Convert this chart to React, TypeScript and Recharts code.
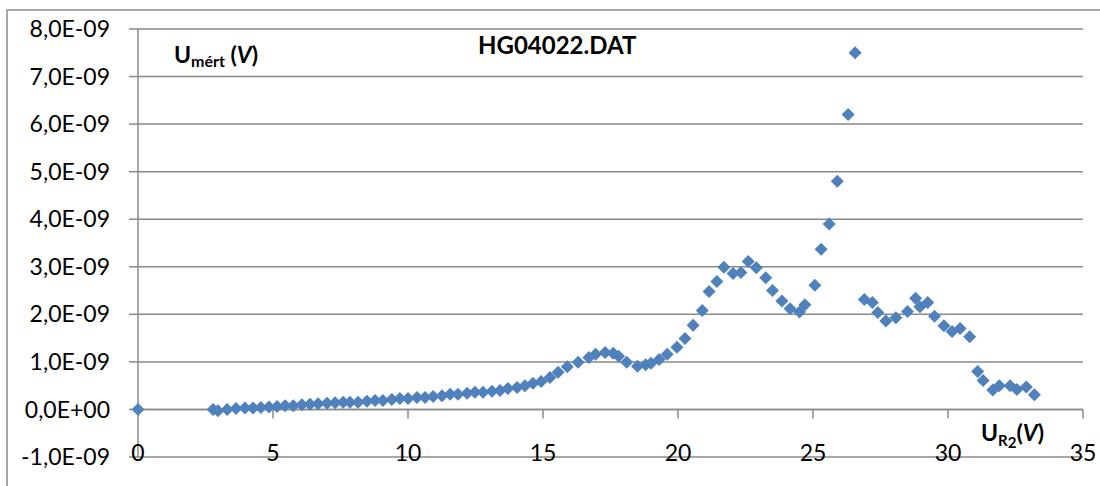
import React from 'react'
import {
  ScatterChart,
  Scatter,
  XAxis,
  YAxis,
  CartesianGrid,
  ReferenceLine,
} from 'recharts'

// U_R2 (V)
const uR2 = [
  0, 2.78, 2.96, 3.3, 3.63, 3.96, 4.26, 4.55, 4.85, 5.15, 5.45, 5.75, 6.07, 6.37,
  6.67, 7.0, 7.3, 7.6, 7.85, 8.15, 8.48, 8.78, 9.07, 9.4, 9.7, 10.0, 10.33, 10.63,
  10.93, 11.26, 11.56, 11.85, 12.19, 12.48, 12.78, 13.11, 13.41, 13.7, 14.04, 14.33,
  14.63, 14.93, 15.26, 15.56, 15.9, 16.3, 16.7, 16.95, 17.3, 17.6, 17.8, 18.1, 18.5,
  18.8, 19.0, 19.3, 19.6, 19.96, 20.26, 20.56, 20.9, 21.15, 21.44, 21.7, 22.04, 22.33,
  22.6, 22.9, 23.25, 23.5, 23.85, 24.15, 24.5, 24.7, 25.07, 25.3, 25.6, 25.9, 26.3,
  26.56, 26.9, 27.2, 27.4, 27.7, 28.07, 28.5, 28.8, 28.96, 29.25, 29.5, 29.85, 30.15,
  30.45, 30.8, 31.1, 31.3, 31.66, 31.9, 32.3, 32.55, 32.9, 33.2,
]

// U_mert in units of 1E-09 V
const uMert = [
  0, 0.0, -0.03, 0.0, 0.02, 0.03, 0.03, 0.04, 0.05, 0.06, 0.08, 0.08, 0.1, 0.11,
  0.12, 0.13, 0.14, 0.15, 0.15, 0.15, 0.17, 0.19, 0.19, 0.21, 0.23, 0.23, 0.25, 0.25,
  0.27, 0.29, 0.32, 0.32, 0.34, 0.36, 0.36, 0.38, 0.4, 0.44, 0.46, 0.5,
  0.55, 0.59, 0.67, 0.78, 0.9, 0.99, 1.09, 1.16, 1.2, 1.18, 1.12, 0.99, 0.91,
  0.94, 0.97, 1.05, 1.16, 1.31, 1.49, 1.77, 2.08, 2.48, 2.69, 2.99, 2.86, 2.88,
  3.11, 2.98, 2.77, 2.5, 2.28, 2.12, 2.05, 2.2, 2.61, 3.37, 3.9, 4.8, 6.2,
  7.5, 2.31, 2.25, 2.04, 1.86, 1.93, 2.06, 2.34, 2.16, 2.25, 1.96, 1.76, 1.64,
  1.7, 1.53, 0.8, 0.61, 0.41, 0.5, 0.5, 0.42, 0.47, 0.31,
]

const xTicks = [0, 5, 10, 15, 20, 25, 30, 35]
const yTicks = [-1, 0, 1, 2, 3, 4, 5, 6, 7, 8]

const points = uR2.map((x, i) => ({ x, y: uMert[i] }))

const FONT = 'Lato, "Open Sans", sans-serif'
const GRID = '#8a8a8a'
const BLUE = '#4F81BD'

const fmtY = (v: number) =>
  v === 0 ? '0,0E+00' : `${v.toFixed(1).replace('.', ',')}E-09`

const Diamond = (props: any) => {
  const { cx, cy } = props
  const r = 6.5
  return (
    <path
      d={`M${cx},${cy - r}L${cx + r},${cy}L${cx},${cy + r}L${cx - r},${cy}Z`}
      fill={BLUE}
    />
  )
}

const XTick = (props: any) => {
  const { x, y, payload } = props
  return (
    <text x={x} y={y - 4} dy="0.355em" textAnchor="middle" fill="#000" fontSize={23} fontFamily={FONT}>
      {payload.value}
    </text>
  )
}

export default function App() {
  return (
    <div style={{ position: 'absolute', left: 0, top: 0, width: 1100, height: 486, background: '#fff' }}>
      <div
        style={{
          position: 'absolute',
          left: 6,
          top: 9,
          width: 1100,
          height: 490,
          border: '2px solid #a6a6a6',
          boxSizing: 'border-box',
        }}
      />
      <ScatterChart width={1100} height={486} margin={{ top: 29, right: 17, bottom: 0, left: 0 }}>
        <CartesianGrid vertical={false} stroke={GRID} strokeWidth={1.5} />
        <XAxis
          type="number"
          dataKey="x"
          domain={[0, 35]}
          ticks={xTicks}
          interval={0}
          height={29}
          axisLine={false}
          tickLine={false}
          tickSize={0}
          tickMargin={0}
          tick={<XTick />}
        />
        <YAxis
          type="number"
          dataKey="y"
          domain={[-1, 8]}
          ticks={yTicks}
          interval={0}
          width={138}
          tickSize={9}
          tickMargin={19}
          tickFormatter={fmtY}
          axisLine={{ stroke: GRID, strokeWidth: 1.5 }}
          tickLine={{ stroke: GRID, strokeWidth: 1.5 }}
          tick={{ fill: '#000', fontSize: 23, fontFamily: FONT }}
        />
        <ReferenceLine y={0} stroke={GRID} strokeWidth={1.5} />
        {xTicks.slice(1).map((t) => (
          <ReferenceLine
            key={t}
            segment={[{ x: t, y: 0 }, { x: t, y: -0.19 }]}
            stroke={GRID}
            strokeWidth={1.5}
          />
        ))}
        <Scatter data={points} shape={<Diamond />} isAnimationActive={false} />
      </ScatterChart>
      <div
        style={{
          position: 'absolute',
          left: 478,
          top: 33,
          fontFamily: FONT,
          fontWeight: 700,
          fontSize: 24,
          lineHeight: 1,
          color: '#000',
          whiteSpace: 'nowrap',
        }}
      >
        HG04022.DAT
      </div>
      <div
        style={{
          position: 'absolute',
          left: 174,
          top: 43,
          fontFamily: FONT,
          fontWeight: 700,
          fontSize: 23,
          lineHeight: 1,
          color: '#000',
          whiteSpace: 'nowrap',
        }}
      >
        U<sub style={{ fontSize: 16, verticalAlign: -4 }}>mért</sub> (<i>V</i>)
      </div>
      <div
        style={{
          position: 'absolute',
          left: 981,
          top: 421,
          fontFamily: FONT,
          fontWeight: 700,
          fontSize: 23,
          lineHeight: 1,
          color: '#000',
          whiteSpace: 'nowrap',
        }}
      >
        U
        <sub style={{ fontSize: 15, verticalAlign: -5 }}>
          R<sub style={{ fontSize: 15, verticalAlign: -2 }}>2</sub>
        </sub>
        (<i>V</i>)
      </div>
    </div>
  )
}
